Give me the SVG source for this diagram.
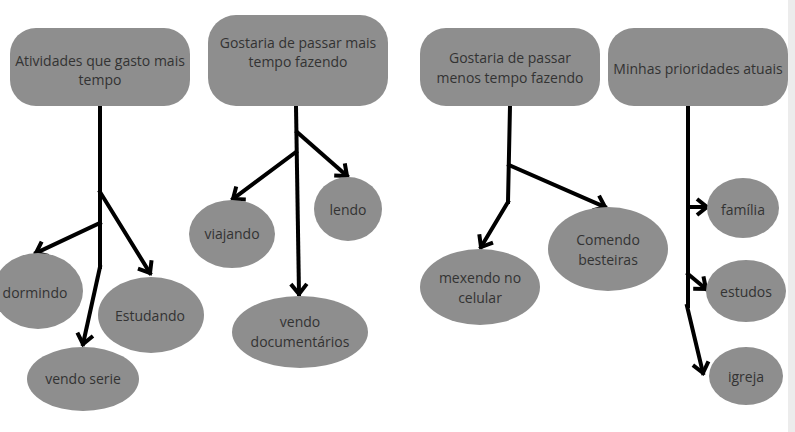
<svg xmlns="http://www.w3.org/2000/svg" width="795" height="432" viewBox="0 0 795 432">
<style>
.box{fill:#8e8e8e}
.ell{fill:#8e8e8e}
.t{font-family:"Open Sans","Liberation Sans",sans-serif;font-size:14px;fill:#333;text-anchor:middle}
.c{stroke:#000;stroke-width:4;fill:none;stroke-linecap:square}
</style>
<defs>
<marker id="ah" markerUnits="userSpaceOnUse" markerWidth="30" markerHeight="30" refX="0" refY="0" viewBox="-15 -15 30 30" orient="auto" overflow="visible">
<path d="M-10,-8 L0,0 L-10,8" fill="none" stroke="#000" stroke-width="4" stroke-linejoin="miter"/>
</marker>
</defs>
<rect width="795" height="432" fill="#fff"/>
<rect x="788" y="0" width="7" height="432" fill="#ececec"/>

<g id="connectors">
<path class="c" d="M100,106 L100,267"/>
<path class="c" d="M100,192 L150,273" marker-end="url(#ah)"/>
<path class="c" d="M100,223 L36,253" marker-end="url(#ah)"/>
<path class="c" d="M100,267 L83,344" marker-end="url(#ah)"/>

<path class="c" d="M296,106 L299,294" marker-end="url(#ah)"/>
<path class="c" d="M297,132 L347,176" marker-end="url(#ah)"/>
<path class="c" d="M296,152 L233,199" marker-end="url(#ah)"/>

<path class="c" d="M510,106 L508,202"/>
<path class="c" d="M509,165 L605,207" marker-end="url(#ah)"/>
<path class="c" d="M508,202 L481,247" marker-end="url(#ah)"/>

<path class="c" d="M688,106 L688,306"/>
<path class="c" d="M688,207 L707,207" marker-end="url(#ah)"/>
<path class="c" d="M688,274 L706,289" marker-end="url(#ah)"/>
<path class="c" d="M687,306 L703,373" marker-end="url(#ah)"/>
</g>

<g id="n1">
<rect class="box" x="10" y="28" width="180" height="78" rx="26"/>
<text class="t" x="100" y="66">Atividades que gasto mais</text>
<text class="t" x="100" y="85">tempo</text>
</g>
<g id="n2">
<rect class="box" x="208" y="15" width="180" height="91" rx="28"/>
<text class="t" x="298" y="48">Gostaria de passar mais</text>
<text class="t" x="298" y="67">tempo fazendo</text>
</g>
<g id="n3">
<rect class="box" x="420" y="28" width="180" height="78" rx="26"/>
<text class="t" x="510" y="63">Gostaria de passar</text>
<text class="t" x="510" y="83">menos tempo fazendo</text>
</g>
<g id="n4">
<rect class="box" x="608" y="28" width="180" height="78" rx="26"/>
<text class="t" x="698" y="74">Minhas prioridades atuais</text>
</g>

<g id="dormindo">
<ellipse class="ell" cx="38" cy="291" rx="45" ry="38"/>
<text class="t" x="35" y="298">dormindo</text>
</g>
<g id="estudando">
<ellipse class="ell" cx="151" cy="315" rx="53" ry="38"/>
<text class="t" x="150" y="321">Estudando</text>
</g>
<g id="vendoserie">
<ellipse class="ell" cx="83" cy="379" rx="56" ry="32"/>
<text class="t" x="83" y="384">vendo serie</text>
</g>

<g id="viajando">
<ellipse class="ell" cx="232" cy="234" rx="43" ry="34"/>
<text class="t" x="232" y="239">viajando</text>
</g>
<g id="lendo">
<ellipse class="ell" cx="348" cy="209" rx="34" ry="32"/>
<text class="t" x="348" y="215">lendo</text>
</g>
<g id="documentarios">
<ellipse class="ell" cx="300" cy="332" rx="68" ry="36"/>
<text class="t" x="300" y="327">vendo</text>
<text class="t" x="300" y="347">documentários</text>
</g>

<g id="mexendo">
<ellipse class="ell" cx="480" cy="287" rx="60" ry="38"/>
<text class="t" x="480" y="283">mexendo no</text>
<text class="t" x="480" y="303">celular</text>
</g>
<g id="comendo">
<ellipse class="ell" cx="608" cy="249" rx="60" ry="42"/>
<text class="t" x="608" y="245">Comendo</text>
<text class="t" x="608" y="265">besteiras</text>
</g>

<g id="familia">
<ellipse class="ell" cx="743" cy="208" rx="36" ry="30"/>
<text class="t" x="743" y="215">família</text>
</g>
<g id="estudos">
<ellipse class="ell" cx="746" cy="291" rx="40" ry="31"/>
<text class="t" x="746" y="297">estudos</text>
</g>
<g id="igreja">
<ellipse class="ell" cx="746" cy="376" rx="37" ry="29"/>
<text class="t" x="746" y="382">igreja</text>
</g>
</svg>
